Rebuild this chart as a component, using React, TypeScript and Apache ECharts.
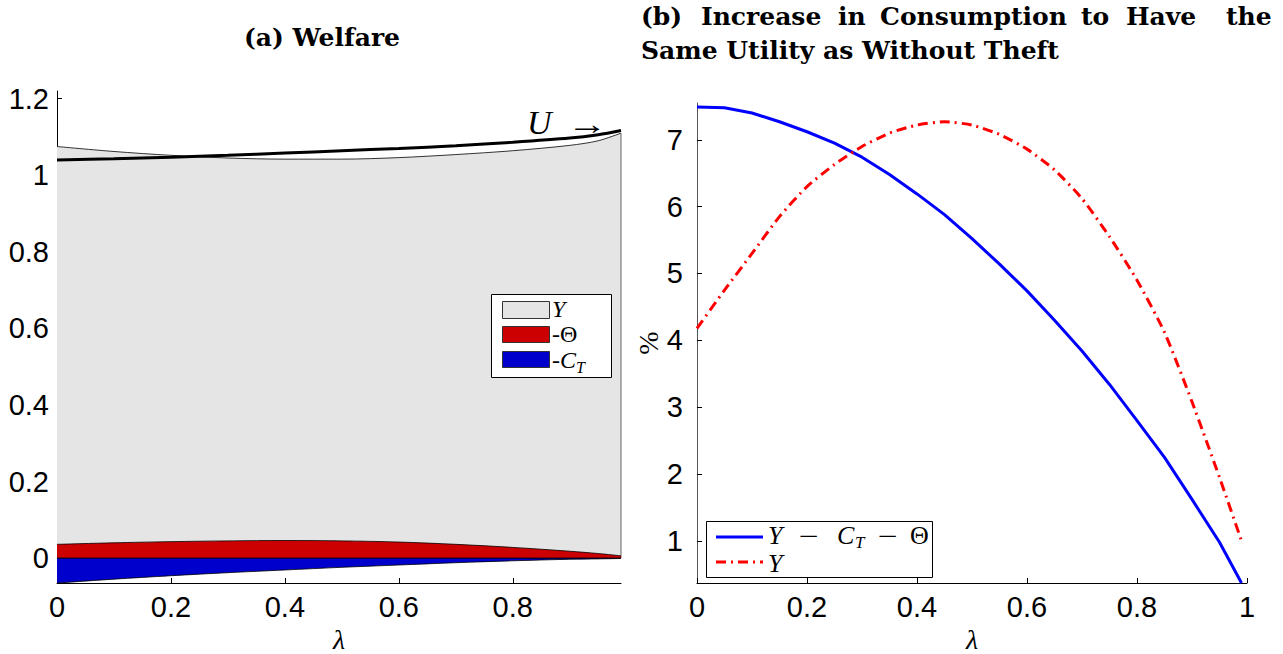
import React, { useEffect, useRef } from 'react';
import * as echarts from 'echarts';

// ---- Panel (a): Welfare ----
const lambdaA = [0, 0.1, 0.2, 0.3, 0.4, 0.5, 0.6, 0.7, 0.8, 0.9, 0.95, 0.99];
const welfareY = [1.075, 1.062, 1.052, 1.045, 1.042, 1.042, 1.046, 1.054, 1.064, 1.078, 1.09, 1.11];
const utilityU = [1.04, 1.043, 1.047, 1.052, 1.058, 1.064, 1.07, 1.077, 1.086, 1.097, 1.106, 1.117];
const minusTheta = [0.036, 0.04, 0.043, 0.045, 0.046, 0.045, 0.042, 0.036, 0.028, 0.018, 0.012, 0.006];
const minusCT = [-0.065, -0.055, -0.046, -0.038, -0.031, -0.024, -0.018, -0.012, -0.007, -0.003, -0.002, -0.001];
const ticksAX = [0, 0.2, 0.4, 0.6, 0.8];
const ticksAY = [0, 0.2, 0.4, 0.6, 0.8, 1, 1.2];

// ---- Panel (b): Increase in consumption (%) ----
const lambdaB = [0, 0.05, 0.1, 0.15, 0.2, 0.25, 0.3, 0.35, 0.4, 0.45, 0.5, 0.55, 0.6, 0.65, 0.7, 0.75, 0.8, 0.85, 0.9, 0.95, 0.99];
const netGain = [7.49, 7.48, 7.4, 7.27, 7.12, 6.95, 6.74, 6.48, 6.19, 5.88, 5.52, 5.14, 4.74, 4.3, 3.84, 3.34, 2.8, 2.25, 1.62, 0.98, 0.37];
const grossGain = [4.18, 4.75, 5.3, 5.85, 6.3, 6.63, 6.9, 7.1, 7.22, 7.27, 7.22, 7.08, 6.86, 6.55, 6.12, 5.55, 4.9, 4.12, 3.08, 1.95, 1.0];
const ticksBX = [0, 0.2, 0.4, 0.6, 0.8, 1];
const ticksBY = [1, 2, 3, 4, 5, 6, 7];

const zip = (xs: number[], ys: number[]) => xs.map((x, i) => [x, ys[i]]);

const SANS = 'Liberation Sans';
const SERIF = 'Liberation Serif';
const TITLE = 'DejaVu Serif';
const LBL = 29;
const TFS = 25;

const txt = (x: number, y: number, text: string, fs: number, italic = false, extra: any = {}) => ({
  type: 'text', x, y, z: 11, ...extra,
  style: {
    text, fontFamily: SERIF, fontStyle: italic ? 'italic' : 'normal', fontSize: fs,
    fill: '#000', textAlign: 'left', textVerticalAlign: 'middle',
  },
});

function axisX(grid: number, max: number, ticks: number[]) {
  return {
    type: 'value', gridIndex: grid, min: 0, max,
    axisLine: { show: true, onZero: false, lineStyle: { color: '#000', width: 1 } },
    axisTick: { show: true, inside: true, length: 5, customValues: ticks, lineStyle: { color: '#000' } },
    axisLabel: { show: true, customValues: ticks, fontFamily: SANS, fontSize: LBL, color: '#000', margin: 9 },
    splitLine: { show: false },
    name: 'λ', nameLocation: 'middle', nameGap: 34,
    nameTextStyle: { fontFamily: SERIF, fontStyle: 'italic', fontSize: 28, color: '#000' },
  };
}

const title1Words = [
  { t: '(b)', x: 641 }, { t: 'Increase', x: 701 }, { t: 'in', x: 838 }, { t: 'Consumption', x: 880 },
  { t: 'to', x: 1081 }, { t: 'Have', x: 1126 }, { t: 'the', x: 1226 },
];

const option: any = {
  animation: false,
  backgroundColor: '#fff',
  grid: [
    { left: 57, top: 91, width: 564, height: 492, outerBoundsMode: 'none', containLabel: false },
    { left: 697, top: 103, width: 550, height: 480, outerBoundsMode: 'none', containLabel: false },
  ],
  xAxis: [axisX(0, 0.99, ticksAX), axisX(1, 1, ticksBX)],
  yAxis: [
    {
      type: 'value', gridIndex: 0, min: -0.065, max: 1.22,
      axisLine: { show: true, onZero: false, lineStyle: { color: '#000', width: 1 } },
      axisTick: { show: true, inside: true, length: 5, customValues: ticksAY, lineStyle: { color: '#000' } },
      axisLabel: { show: true, customValues: ticksAY, fontFamily: SANS, fontSize: LBL, color: '#000', margin: 8 },
      splitLine: { show: false },
    },
    {
      type: 'value', gridIndex: 1, min: 0.37, max: 7.55,
      axisLine: { show: true, onZero: false, lineStyle: { color: '#555', width: 1 } },
      axisTick: { show: true, inside: true, length: 5, customValues: ticksBY, lineStyle: { color: '#000' } },
      axisLabel: { show: true, customValues: ticksBY, fontFamily: SANS, fontSize: LBL, color: '#000', margin: 14 },
      splitLine: { show: false },
      name: '%', nameLocation: 'middle', nameGap: 26, nameRotate: 90,
      nameTextStyle: { fontFamily: SERIF, fontSize: 28, color: '#000' },
    },
  ],
  series: [
    {
      name: 'Y', type: 'line', xAxisIndex: 0, yAxisIndex: 0, data: zip(lambdaA, welfareY),
      showSymbol: false, smooth: 0.3, lineStyle: { color: '#000', width: 0.8 },
      areaStyle: { color: '#e5e5e5', opacity: 1 }, z: 1,
    },
    {
      name: 'edge', type: 'line', xAxisIndex: 0, yAxisIndex: 0,
      data: [[lambdaA[lambdaA.length - 1], 0], [lambdaA[lambdaA.length - 1], welfareY[welfareY.length - 1]]],
      showSymbol: false, lineStyle: { color: '#444', width: 0.8 }, z: 2,
    },
    {
      name: '-Θ', type: 'line', xAxisIndex: 0, yAxisIndex: 0, data: zip(lambdaA, minusTheta),
      showSymbol: false, smooth: 0.3, lineStyle: { color: '#000', width: 0.8 },
      areaStyle: { color: '#cc0000', opacity: 1 }, z: 3,
    },
    {
      name: '-C_T', type: 'line', xAxisIndex: 0, yAxisIndex: 0, data: zip(lambdaA, minusCT),
      showSymbol: false, smooth: 0.3, lineStyle: { color: '#000', width: 0.8 },
      areaStyle: { color: '#0000cc', opacity: 1 }, z: 3,
    },
    {
      name: 'zero', type: 'line', xAxisIndex: 0, yAxisIndex: 0,
      data: [[0, 0], [lambdaA[lambdaA.length - 1], 0]],
      showSymbol: false, lineStyle: { color: '#000', width: 1 }, z: 4,
    },
    {
      name: 'U', type: 'line', xAxisIndex: 0, yAxisIndex: 0, data: zip(lambdaA, utilityU),
      showSymbol: false, smooth: 0.3, lineStyle: { color: '#000', width: 3 }, z: 5,
    },
    {
      name: 'Y − C_T − Θ', type: 'line', xAxisIndex: 1, yAxisIndex: 1, data: zip(lambdaB, netGain),
      showSymbol: false, lineStyle: { color: '#0000ff', width: 3 }, z: 5,
    },
    {
      name: 'Y (b)', type: 'line', xAxisIndex: 1, yAxisIndex: 1, data: zip(lambdaB, grossGain),
      showSymbol: false, smooth: 0.2, lineStyle: { color: '#ff0000', width: 3, type: [10, 5, 2, 5] }, z: 6,
    },
  ],
  graphic: [
    // titles
    {
      type: 'text', x: 322, y: 37,
      style: { text: '(a) Welfare', fontFamily: TITLE, fontWeight: 'bold', fontSize: TFS, fill: '#000', textAlign: 'center', textVerticalAlign: 'middle' },
    },
    ...title1Words.map((w) => ({
      type: 'text', x: w.x, y: 16,
      style: { text: w.t, fontFamily: TITLE, fontWeight: 'bold', fontSize: TFS, fill: '#000', textAlign: 'left', textVerticalAlign: 'middle' },
    })),
    {
      type: 'text', x: 641, y: 50,
      style: { text: 'Same Utility as Without Theft', fontFamily: TITLE, fontWeight: 'bold', fontSize: TFS, fill: '#000', textAlign: 'left', textVerticalAlign: 'middle' },
    },
    // U arrow label
    txt(527, 122, 'U', 34, true, { z: 10 }),
    txt(567, 124, '→', 30, false, { z: 10, scaleX: 1.35 }),
    // legend (a)
    { type: 'rect', z: 10, shape: { x: 491.5, y: 294.5, width: 120, height: 83 }, style: { fill: '#fff', stroke: '#000', lineWidth: 1 } },
    { type: 'rect', z: 11, shape: { x: 502.5, y: 301.5, width: 47, height: 17 }, style: { fill: '#e5e5e5', stroke: '#333', lineWidth: 1 } },
    { type: 'rect', z: 11, shape: { x: 502.5, y: 326.5, width: 47, height: 16 }, style: { fill: '#cc0000', stroke: '#333', lineWidth: 1 } },
    { type: 'rect', z: 11, shape: { x: 502.5, y: 351.5, width: 47, height: 16 }, style: { fill: '#0000cc', stroke: '#333', lineWidth: 1 } },
    txt(552, 309, 'Y', 24, true),
    txt(552, 334, '-Θ', 24, false),
    txt(552, 360, '-', 24, false),
    txt(560, 360, 'C', 24, true),
    txt(576, 367, 'T', 16, true),
    // legend (b)
    { type: 'rect', z: 10, shape: { x: 706.5, y: 521.5, width: 226, height: 56 }, style: { fill: '#fff', stroke: '#000', lineWidth: 1 } },
    { type: 'line', z: 11, shape: { x1: 716, y1: 537, x2: 763, y2: 537 }, style: { stroke: '#0000ff', lineWidth: 3 } },
    { type: 'line', z: 11, shape: { x1: 716, y1: 562, x2: 763, y2: 562 }, style: { stroke: '#ff0000', lineWidth: 3, lineDash: [10, 5, 2, 5] } },
    txt(768, 535, 'Y', 26, true),
    txt(799, 536, '−', 26, false, { scaleX: 1.35 }),
    txt(837, 535, 'C', 26, true),
    txt(855, 542, 'T', 17, true),
    txt(878, 536, '−', 26, false, { scaleX: 1.35 }),
    txt(910, 535, 'Θ', 26, false),
    txt(768, 563, 'Y', 26, true),
  ],
};

export default function App() {
  const ref = useRef<HTMLDivElement>(null);
  useEffect(() => {
    if (!ref.current) return;
    const chart = echarts.init(ref.current, null, { renderer: 'svg' });
    chart.setOption(option);
    return () => chart.dispose();
  }, []);
  return (
    <div
      ref={ref}
      style={{ position: 'fixed', left: 0, top: 0, width: 1283, height: 654, background: '#fff' }}
    />
  );
}
